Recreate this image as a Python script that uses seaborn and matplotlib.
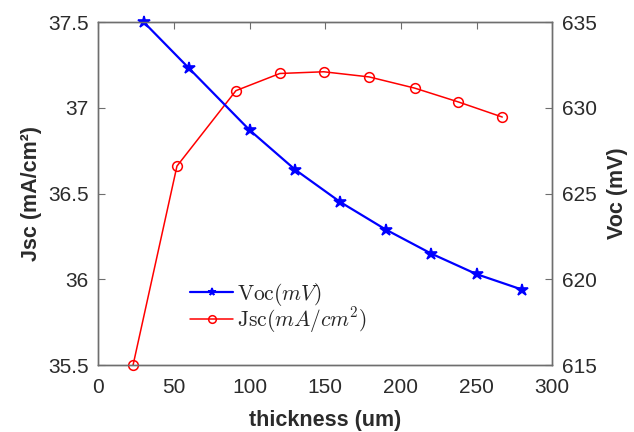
import matplotlib
matplotlib.use("Agg")
import matplotlib.pyplot as plt
import seaborn as sns

# thickness (um) and values
voc_thickness = [30, 60, 100, 130, 160, 190, 220, 250, 280]
voc_mv = [635.0, 632.3, 628.7, 626.4, 624.5, 622.9, 621.5, 620.3, 619.4]

jsc_thickness = [23, 52, 91, 120, 149, 179, 209, 238, 267]
jsc_ma = [35.5, 36.66, 37.10, 37.20, 37.21, 37.18, 37.115, 37.034, 36.946]

x_ticks = [0, 50, 100, 150, 200, 250, 300]
jsc_ticks = [35.5, 36, 36.5, 37, 37.5]
jsc_tick_labels = ["35.5", "36", "36.5", "37", "37.5"]
voc_ticks = [615, 620, 625, 630, 635]

sns.set_style("white")
plt.rcParams["font.family"] = ["Liberation Sans", "DejaVu Sans"]
plt.rcParams["mathtext.fontset"] = "cm"

axis_grey = "#6e6e6e"
text_grey = "#2b2b2b"

fig = plt.figure(figsize=(6.34, 4.32), dpi=100)
ax = fig.add_axes([0.155, 0.155, 0.716, 0.794])
ax2 = ax.twinx()

# Jsc on the left axis (red, open circles)
sns.lineplot(x=jsc_thickness, y=jsc_ma, ax=ax, color="red", linewidth=1.1,
             marker="o", markersize=7, markerfacecolor="none",
             markeredgecolor="red", markeredgewidth=1.1, clip_on=False,
             label=r"$\mathrm{Jsc}(mA/cm^2)$", legend=False)

# Voc on the right axis (blue, stars)
sns.lineplot(x=voc_thickness, y=voc_mv, ax=ax2, color="blue", linewidth=1.6,
             marker="*", markersize=9, markeredgecolor="blue",
             markeredgewidth=1.2, clip_on=False,
             label=r"$\mathrm{Voc}(mV)$", legend=False)

ax.set_xlim(0, 300)
ax.set_ylim(35.5, 37.5)
ax2.set_ylim(615, 635)
ax.set_xticks(x_ticks)
ax.set_yticks(jsc_ticks)
ax.set_yticklabels(jsc_tick_labels)
ax2.set_yticks(voc_ticks)

ax.set_xlabel("thickness (um)", fontsize=15.5, fontweight="bold",
              color=text_grey, labelpad=10)
ax.set_ylabel("Jsc (mA/cm²)", fontsize=15.5, fontweight="bold",
              color=text_grey, labelpad=4)
ax2.set_ylabel("Voc (mV)", fontsize=15.5, fontweight="bold",
               color=text_grey, labelpad=7)

for a in (ax, ax2):
    for sp in a.spines.values():
        sp.set_color(axis_grey)
        sp.set_linewidth(1.0)
ax.tick_params(axis="x", direction="in", top=True, length=5, width=0.8,
               color=axis_grey, labelsize=15, labelcolor=text_grey, pad=9)
ax.tick_params(axis="y", direction="in", left=True, right=False, length=5,
               width=0.8, color=axis_grey, labelsize=15, labelcolor=text_grey,
               pad=7)
ax2.tick_params(axis="y", direction="in", right=True, length=5, width=0.8,
                color=axis_grey, labelsize=15, labelcolor=text_grey, pad=7)

h1, l1 = ax2.get_legend_handles_labels()
h2, l2 = ax.get_legend_handles_labels()
leg = ax2.legend(h1 + h2, l1 + l2, loc="lower left",
                 bbox_to_anchor=(0.16, 0.03), frameon=False, fontsize=15.5,
                 handlelength=2.0, handletextpad=0.15, labelspacing=-0.1)
for h in leg.legend_handles:
    h.set_markersize(5.5)

fig.savefig("out.png", dpi=100)
